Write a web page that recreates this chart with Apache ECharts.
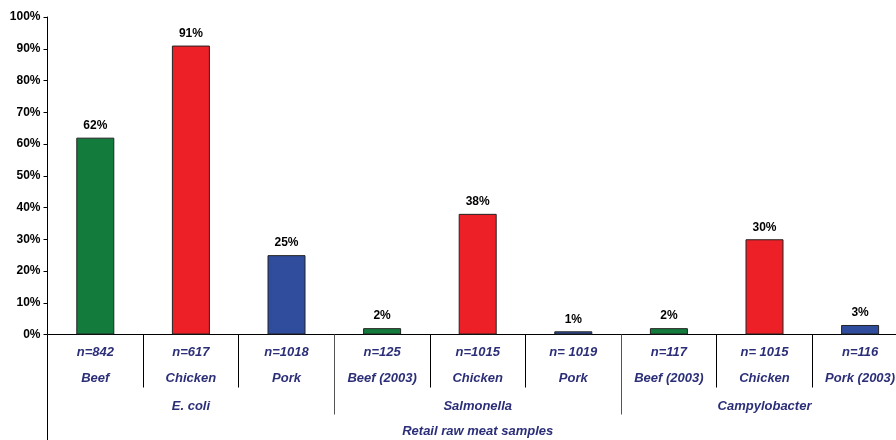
<!DOCTYPE html>
<html>
<head>
<meta charset="utf-8">
<script src="https://cdn.jsdelivr.net/npm/echarts@6/dist/echarts.min.js"></script>
<style>
  html, body { margin: 0; padding: 0; background: #fff; }
  #chart { width: 896px; height: 440px; }
</style>
</head>
<body>
<div id="chart"></div>
<script>
// Share of retail raw meat samples testing positive, by organism and meat type
const meatTypes   = ['Beef', 'Chicken', 'Pork', 'Beef (2003)', 'Chicken', 'Pork', 'Beef (2003)', 'Chicken', 'Pork (2003)'];
const sampleSizes = ['n=842', 'n=617', 'n=1018', 'n=125', 'n=1015', 'n= 1019', 'n=117', 'n= 1015', 'n=116'];
const percentPositive = [62, 91, 25, 2, 38, 1, 2, 30, 3];
const organisms   = ['E. coli', 'Salmonella', 'Campylobacter'];
const axisTitle   = ['Retail raw meat samples'];
const yTicks      = [0, 10, 20, 30, 40, 50, 60, 70, 80, 90, 100];

const meatColors = { Beef: '#137c3c', Chicken: '#ee2027', Pork: '#2f4c9d' };
const textNavy = '#2c2f78';
const labelFont = { fontFamily: 'Liberation Sans, Arial, sans-serif', fontWeight: 'bold', fontStyle: 'italic', fontSize: 13, color: textNavy };

const categoryKeys = sampleSizes.map((n, i) => n + '\n' + meatTypes[i]);

const chart = echarts.init(document.getElementById('chart'), null, { renderer: 'canvas' });

chart.setOption({
  animation: false,
  backgroundColor: '#ffffff',
  // the plot runs a little past the right edge of the canvas
  grid: { left: 47.5, width: 860.4, top: 17, bottom: 105.5, containLabel: false, outerBoundsMode: 'none' },
  xAxis: [
    {
      type: 'category',
      position: 'bottom',
      data: categoryKeys,
      boundaryGap: true,
      axisLine: { show: true, lineStyle: { color: '#000', width: 1 } },
      axisTick: { show: true, length: 53, interval: 0, lineStyle: { color: '#000', width: 1 } },
      axisLabel: Object.assign({ interval: 0, margin: 5.3, lineHeight: 26 }, labelFont)
    },
    {
      type: 'category',
      position: 'bottom',
      data: organisms,
      boundaryGap: true,
      axisLine: { show: false },
      axisTick: { show: true, length: 80, interval: 0, lineStyle: { color: '#555', width: 1 } },
      axisLabel: Object.assign({ interval: 0, margin: 63.7, lineHeight: 16 }, labelFont)
    },
    {
      type: 'category',
      position: 'bottom',
      data: axisTitle,
      boundaryGap: true,
      axisLine: { show: false },
      axisTick: { show: true, length: 106, interval: 0, lineStyle: { color: '#000', width: 1 } },
      axisLabel: Object.assign({ interval: 0, margin: 88.7, lineHeight: 16 }, labelFont, {
        formatter: () => axisTitle[0]
      })
    }
  ],
  yAxis: {
    type: 'value',
    min: yTicks[0],
    max: yTicks[yTicks.length - 1],
    interval: 10,
    splitLine: { show: false },
    axisLine: { show: true, lineStyle: { color: '#000', width: 1 } },
    axisTick: { show: true, length: 4, inside: false, lineStyle: { color: '#000' } },
    axisLabel: {
      formatter: '{value}%',
      margin: 7,
      fontFamily: 'Liberation Sans, Arial, sans-serif',
      fontWeight: 'bold',
      fontSize: 12,
      color: '#000'
    }
  },
  series: [
    {
      type: 'bar',
      xAxisIndex: 0,
      barWidth: 38,
      data: percentPositive.map((v, i) => ({
        value: v,
        itemStyle: {
          color: meatColors[meatTypes[i].split(' ')[0]],
          borderColor: '#222',
          borderWidth: 1
        }
      })),
      label: {
        show: true,
        position: 'top',
        distance: 6,
        formatter: '{c}%',
        fontFamily: 'Liberation Sans, Arial, sans-serif',
        fontWeight: 'bold',
        fontSize: 12,
        color: '#000'
      }
    }
  ]
});
</script>
</body>
</html>
